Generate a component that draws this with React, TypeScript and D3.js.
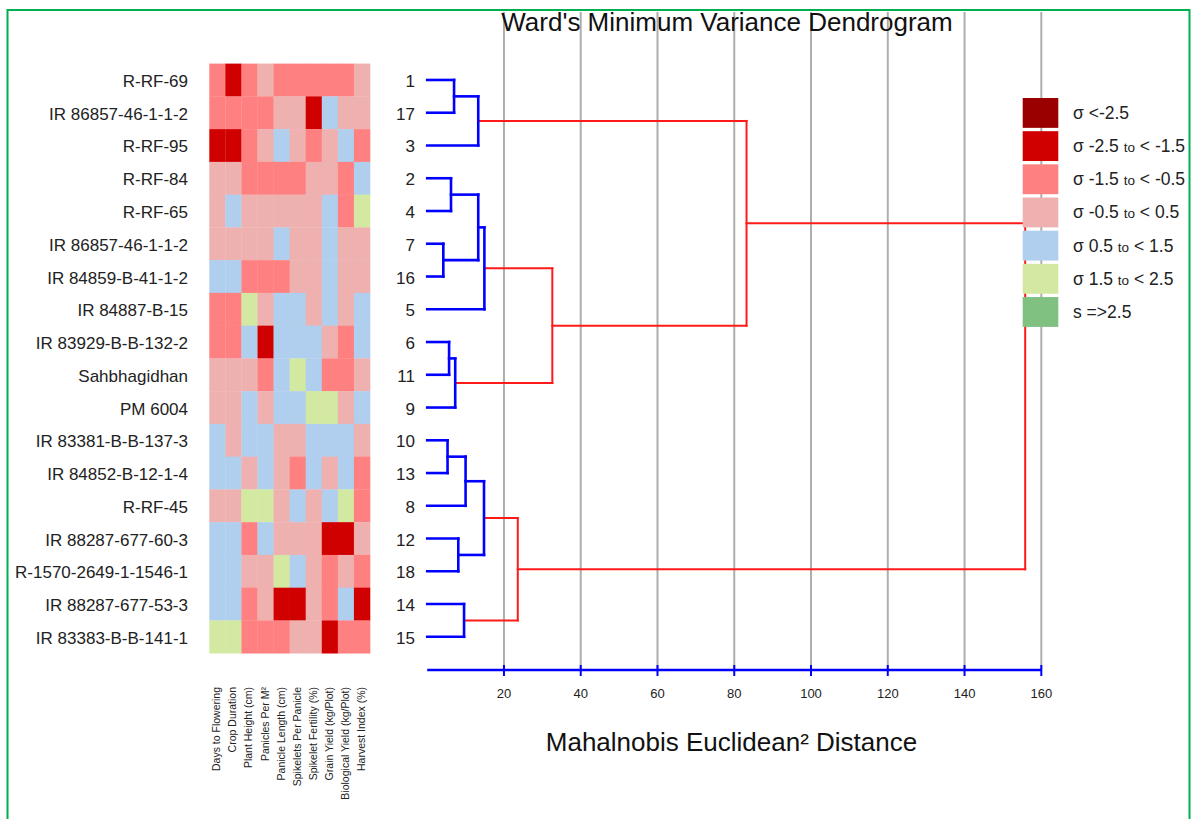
import React from "react";
import * as d3 from "d3";

// ---------- DATA ----------
const genotypes = [
  "R-RF-69", "IR 86857-46-1-1-2", "R-RF-95", "R-RF-84", "R-RF-65",
  "IR 86857-46-1-1-2", "IR 84859-B-41-1-2", "IR 84887-B-15", "IR 83929-B-B-132-2",
  "Sahbhagidhan", "PM 6004", "IR 83381-B-B-137-3", "IR 84852-B-12-1-4", "R-RF-45",
  "IR 88287-677-60-3", "R-1570-2649-1-1546-1", "IR 88287-677-53-3", "IR 83383-B-B-141-1",
];
const leafOrder = ["1", "17", "3", "2", "4", "7", "16", "5", "6", "11", "9", "10", "13", "8", "12", "18", "14", "15"];
const traits = [
  "Days to Flowering", "Crop Duration", "Plant Height (cm)", "Panicles Per M²",
  "Panicle Length (cm)", "Spikelets Per Panicle", "Spikelet Fertility (%)",
  "Grain Yield (kg/Plot)", "Biological Yield (kg/Plot)", "Harvest Index (%)",
];
// sigma class index per cell (0: <-2.5 ... 6: >=2.5)
const sigmaClasses = [
  [2, 1, 2, 3, 2, 2, 2, 2, 2, 3],
  [2, 2, 2, 2, 3, 3, 1, 4, 3, 3],
  [1, 1, 2, 3, 4, 3, 2, 3, 4, 2],
  [3, 3, 2, 2, 2, 2, 3, 3, 2, 4],
  [3, 4, 3, 3, 3, 3, 3, 4, 2, 5],
  [3, 3, 3, 3, 4, 3, 3, 4, 3, 3],
  [4, 4, 2, 2, 2, 3, 3, 4, 3, 3],
  [2, 2, 5, 3, 4, 4, 3, 4, 3, 4],
  [2, 2, 4, 1, 4, 4, 4, 3, 2, 4],
  [3, 3, 3, 2, 4, 5, 4, 2, 2, 3],
  [3, 3, 4, 3, 4, 4, 5, 5, 3, 4],
  [4, 3, 4, 4, 3, 3, 4, 4, 4, 3],
  [4, 4, 3, 4, 3, 2, 4, 3, 4, 2],
  [3, 3, 5, 5, 3, 4, 3, 4, 5, 2],
  [4, 4, 2, 4, 3, 3, 3, 1, 1, 3],
  [4, 4, 3, 3, 5, 4, 3, 2, 3, 2],
  [4, 4, 2, 3, 1, 1, 3, 2, 4, 1],
  [5, 5, 2, 2, 2, 3, 3, 1, 2, 2],
];
const legendLabels = [
  "σ <-2.5", "σ -2.5 to < -1.5", "σ -1.5 to < -0.5", "σ -0.5 to < 0.5",
  "σ 0.5 to < 1.5", "σ 1.5 to < 2.5", "s =>2.5",
];
const legendColors = ["#9B0000", "#D00000", "#FF8080", "#EFB0B0", "#B0CEEE", "#D3E8A0", "#80C080"];
// merges: [name, left, right, height]
const merges: [string, string, string, number][] = [
  ["a1", "1", "17", 7.0],
  ["a2", "a1", "3", 13.3],
  ["b1", "2", "4", 6.2],
  ["b2", "7", "16", 4.2],
  ["b3", "b1", "b2", 13.3],
  ["b4", "b3", "5", 14.9],
  ["b5", "6", "11", 5.7],
  ["b6", "b5", "9", 7.3],
  ["b7", "b4", "b6", 32.6],
  ["ab", "a2", "b7", 83.2],
  ["c1", "10", "13", 5.3],
  ["c2", "c1", "8", 10.0],
  ["c3", "12", "18", 8.1],
  ["c4", "c2", "c3", 14.8],
  ["c5", "14", "15", 9.6],
  ["c6", "c4", "c5", 23.6],
  ["root", "ab", "c6", 155.8],
];
const xTicks = [20, 40, 60, 80, 100, 120, 140, 160];
const colorThreshold = 20;

// ---------- LAYOUT ----------
const W = 1192, H = 819;
const FONT = "'Liberation Sans', Arial, sans-serif";
const rowTop = 63.6, rowBottom = 653.2;
const heatLeft = 209.3, heatRight = 370;

export default function App() {
  const yBand = d3.scaleBand<number>().domain(d3.range(genotypes.length)).range([rowTop, rowBottom]).padding(0);
  const xBand = d3.scaleBand<number>().domain(d3.range(traits.length)).range([heatLeft, heatRight]).padding(0);
  const x = d3.scaleLinear().domain([0, 160]).range([427.2, 1041.3]);
  const color = d3.scaleOrdinal<number, string>().domain(d3.range(7)).range(legendColors);
  const legendY = d3.scaleBand<number>().domain(d3.range(legendLabels.length)).range([98, 98 + 32.7 * 7]).paddingInner(0.1);

  // build tree
  const map = new Map<string, any>();
  leafOrder.forEach((n) => map.set(n, { name: n, height: 0 }));
  merges.forEach(([n, l, r, h]) => map.set(n, { name: n, height: h, children: [map.get(l), map.get(r)] }));
  const root = d3.hierarchy(map.get("root"));
  const pos = new Map<any, number>();
  root.eachAfter((node: any) => {
    if (!node.children) {
      const i = leafOrder.indexOf(node.data.name);
      pos.set(node, (yBand(i) as number) + yBand.bandwidth() / 2);
    } else {
      pos.set(node, d3.mean(node.children, (c: any) => pos.get(c)) as number);
    }
  });
  const segs: { x1: number; y1: number; x2: number; y2: number; red: boolean }[] = [];
  root.each((node: any) => {
    const y = pos.get(node)!;
    if (node.parent) {
      segs.push({ x1: x(node.data.height), y1: y, x2: x(node.parent.data.height), y2: y, red: node.parent.data.height > colorThreshold });
    }
    if (node.children) {
      const ys = node.children.map((c: any) => pos.get(c));
      segs.push({ x1: x(node.data.height), y1: d3.min(ys) as number, x2: x(node.data.height), y2: d3.max(ys) as number, red: node.data.height > colorThreshold });
    }
  });

  const axisY = 670;

  return (
    <svg width={W} height={H} style={{ position: "absolute", left: 0, top: 0, background: "#fff" }} fontFamily={FONT}>
      <rect x={0} y={0} width={W} height={H} fill="#fff" />
      <rect x={7.5} y={10} width={1182} height={830} fill="none" stroke="#00B050" strokeWidth={2} />

      {/* gridlines */}
      {xTicks.map((t) => (
        <line key={"g" + t} x1={x(t)} x2={x(t)} y1={12} y2={axisY} stroke="#AEAEAE" strokeWidth={2} />
      ))}

      {/* title */}
      <text x={727} y={31} textAnchor="middle" fontSize={26} fill="#111">Ward's Minimum Variance Dendrogram</text>

      {/* heatmap */}
      {sigmaClasses.map((row, i) =>
        row.map((c, j) => (
          <rect key={i + "-" + j} x={xBand(j)} y={yBand(i)} width={xBand.bandwidth() + 0.3} height={yBand.bandwidth() + 0.3} fill={color(c)} />
        ))
      )}

      {/* row labels */}
      {genotypes.map((g, i) => (
        <text key={"r" + i} x={188} y={(yBand(i) as number) + yBand.bandwidth() / 2 + 7} textAnchor="end" fontSize={17} fill="#222">{g}</text>
      ))}

      {/* column labels */}
      {traits.map((t, j) => {
        const cx = (xBand(j) as number) + xBand.bandwidth() / 2 + 3;
        return (
          <text key={"c" + j} transform={`translate(${cx},687) rotate(-90)`} textAnchor="end" fontSize={10.5} fill="#222">{t}</text>
        );
      })}

      {/* leaf numbers */}
      {leafOrder.map((n, i) => (
        <text key={"n" + i} x={415} y={(yBand(i) as number) + yBand.bandwidth() / 2 + 7} textAnchor="end" fontSize={17} fill="#222">{n}</text>
      ))}

      {/* dendrogram */}
      {segs.map((s, i) => (
        <line key={"s" + i} x1={s.x1} y1={s.y1} x2={s.x2} y2={s.y2}
          stroke={s.red ? "#FF1A1A" : "#0000FF"} strokeWidth={s.red ? 2 : 2.6} strokeLinecap="square" />
      ))}

      {/* axis */}
      <line x1={x(0)} x2={x(160)} y1={axisY} y2={axisY} stroke="#0000FF" strokeWidth={2.6} />
      {xTicks.map((t) => (
        <g key={"t" + t}>
          <line x1={x(t)} x2={x(t)} y1={axisY - 5} y2={axisY + 6} stroke="#0000FF" strokeWidth={2} />
          <text x={x(t)} y={698} textAnchor="middle" fontSize={13} fill="#222">{t}</text>
        </g>
      ))}
      <text x={731.5} y={751} textAnchor="middle" fontSize={26} fill="#111">Mahalnobis Euclidean² Distance</text>

      {/* legend */}
      {legendLabels.map((l, i) => {
        const y0 = legendY(i) as number;
        const parts = l.split(" to ");
        return (
          <g key={"l" + i}>
            <rect x={1022.7} y={y0} width={35.6} height={legendY.bandwidth()} fill={legendColors[i]} />
            <text x={1073} y={y0 + legendY.bandwidth() / 2 + 6} fontSize={17.5} fill="#222">
              {parts.length > 1 ? (
                <>
                  <tspan>{parts[0] + " "}</tspan>
                  <tspan fontSize={13.5}>to</tspan>
                  <tspan>{" " + parts[1]}</tspan>
                </>
              ) : l}
            </text>
          </g>
        );
      })}
    </svg>
  );
}
